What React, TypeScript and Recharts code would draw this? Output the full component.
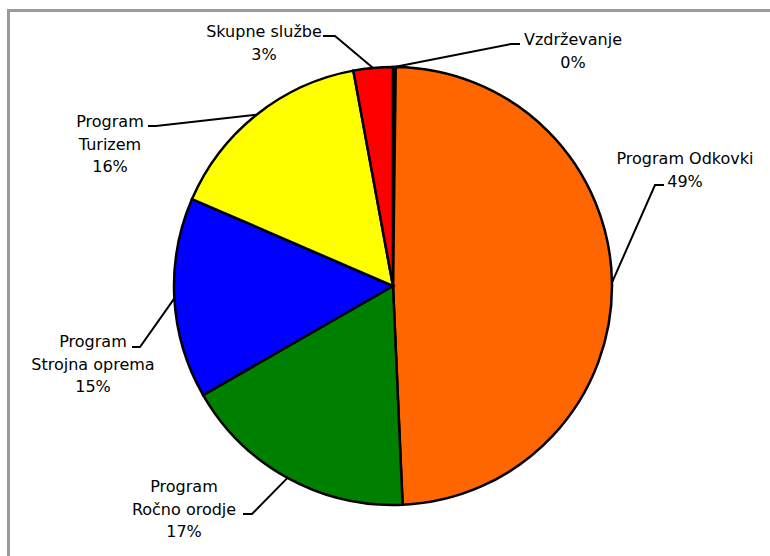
import { PieChart, Pie, Cell } from 'recharts';

const categories = [
  'Vzdrževanje',
  'Program Odkovki',
  'Program Ročno orodje',
  'Program Strojna oprema',
  'Program Turizem',
  'Skupne službe',
];
const shares = [0.2, 49.1, 17.4, 14.8, 15.6, 2.9];
const colors = ['#000080', '#FF6600', '#008000', '#0000FF', '#FFFF00', '#FF0000'];

// label placement relative to pie centre: text centre/baseline, leader end, elbow, wrap after "Program"
const labelLayout = [
  { tx: 180, ty: -241, ex: 127, ey: -242, bx: 118, wrap: false },
  { tx: 292, ty: -122, ex: 271, ey: -101, bx: 262, wrap: false },
  { tx: -209, ty: 206, ex: -150, ey: 228, bx: -141, wrap: true },
  { tx: -300, ty: 61, ex: -261, ey: 61, bx: -253, wrap: true },
  { tx: -283, ty: -159, ex: -245, ey: -160, bx: -237, wrap: true },
  { tx: -129, ty: -249, ex: -70, ey: -250, bx: -58, wrap: false },
];

const data = categories.map((name, i) => ({ name, value: shares[i] }));

const RADIAN = Math.PI / 180;
const LINE_H = 22.5;

function PieLabel(props: any) {
  const { cx, cy, midAngle, outerRadius, index, percent, name } = props;
  const l = labelLayout[index];
  const sx = cx + outerRadius * Math.cos(-midAngle * RADIAN);
  const sy = cy + outerRadius * Math.sin(-midAngle * RADIAN);
  const lines = l.wrap ? ['Program', name.replace('Program ', '')] : [name];
  lines.push(`${Math.round(percent * 100)}%`);
  return (
    <g>
      <polyline
        points={`${sx},${sy} ${cx + l.bx},${cy + l.ey} ${cx + l.ex},${cy + l.ey}`}
        fill="none"
        stroke="#000"
        strokeWidth={2}
      />
      <text
        x={cx + l.tx}
        y={cy + l.ty}
        textAnchor="middle"
        fill="#000"
        fontSize={16}
        fontFamily="'DejaVu Sans', Verdana, sans-serif"
      >
        {lines.map((t, i) => (
          <tspan key={i} x={cx + l.tx} dy={i === 0 ? 0 : LINE_H}>
            {t}
          </tspan>
        ))}
      </text>
    </g>
  );
}

export default function App() {
  return (
    <div style={{ position: 'absolute', left: 0, top: 0, width: 770, height: 556, overflow: 'hidden', background: '#fff' }}>
      <div
        style={{
          position: 'absolute',
          left: 7,
          top: 9,
          width: 800,
          height: 600,
          border: '3px solid #9a9a9a',
        }}
      />
      <div style={{ position: 'absolute', left: 0, top: 0 }}>
        <PieChart width={770} height={556} margin={{ top: 0, right: 0, bottom: 0, left: 0 }}>
          <Pie
            data={data}
            dataKey="value"
            nameKey="name"
            cx={393}
            cy={286}
            outerRadius={219}
            startAngle={90}
            endAngle={-270}
            stroke="#000"
            strokeWidth={2.5}
            label={PieLabel}
            labelLine={false}
            isAnimationActive={false}
          >
            {data.map((d, i) => (
              <Cell key={d.name} fill={colors[i]} />
            ))}
          </Pie>
        </PieChart>
      </div>
    </div>
  );
}
